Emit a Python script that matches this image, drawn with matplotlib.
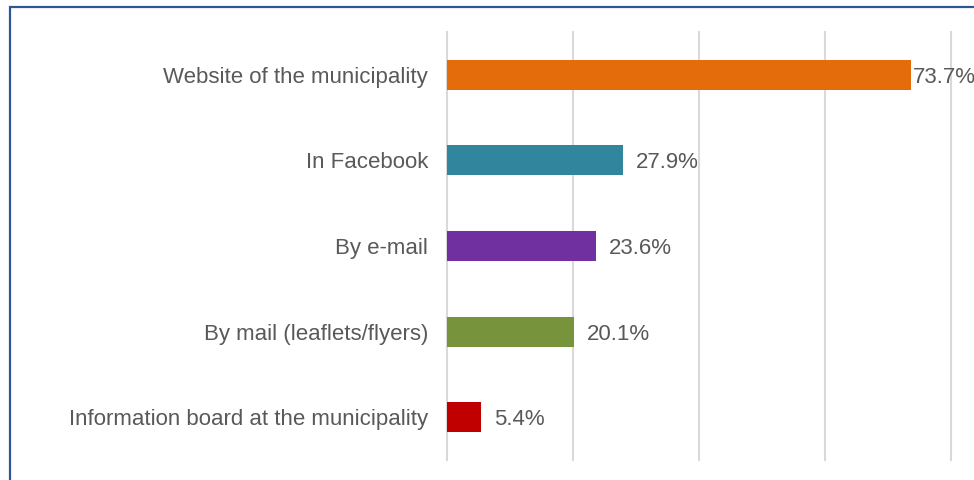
import matplotlib.pyplot as plt
from matplotlib.patches import Rectangle

# Survey: channels through which residents get municipal information
channels = [
    "Website of the municipality",
    "In Facebook",
    "By e-mail",
    "By mail (leaflets/flyers)",
    "Information board at the municipality",
]
shares = [73.7, 27.9, 23.6, 20.1, 5.4]
colors = ["#E46C0A", "#31859C", "#7030A0", "#77933C", "#C00000"]

plt.rcParams["font.family"] = ["Liberation Sans", "DejaVu Sans"]
text_gray = "#595959"

fig = plt.figure(figsize=(9.74, 4.80), dpi=100)
ax = fig.add_axes([0.4594, 0.0417, 0.5170, 0.8916])

pos = list(range(len(channels)))
ax.barh(pos, shares, height=0.35, color=colors, zorder=3)
ax.set_ylim(len(channels) - 0.5, -0.5)
ax.set_xlim(0, 80)

ax.set_xticks([0, 20, 40, 60, 80])
ax.xaxis.grid(True, color="#D9D9D9", linewidth=1.5, zorder=0)
for gl in ax.get_xgridlines():
    gl.set_clip_on(False)
ax.tick_params(axis="x", length=0, labelbottom=False)
ax.set_yticks(pos)
ax.set_yticklabels(channels, fontsize=16, color=text_gray)
ax.tick_params(axis="y", length=0, pad=14)
for s in ax.spines.values():
    s.set_visible(False)

# value labels at the bar ends (the longest one sits tight against its bar)
for i, v in enumerate(shares):
    off = 2 if v > 70 else 13
    ax.annotate(f"{v:.1f}%", xy=(v, i), xytext=(off, 0), textcoords="offset pixels",
                va="center_baseline", ha="left", fontsize=16, color=text_gray,
                annotation_clip=False, zorder=4)

# blue frame around the figure (right and bottom run off the edge)
fig.patches.append(Rectangle((10 / 974, -0.1), 1.1, 1 - 7 / 480 + 0.1,
                             transform=fig.transFigure, fill=False,
                             edgecolor="#2F5597", linewidth=1.6))

fig.savefig("out.png", dpi=100)
